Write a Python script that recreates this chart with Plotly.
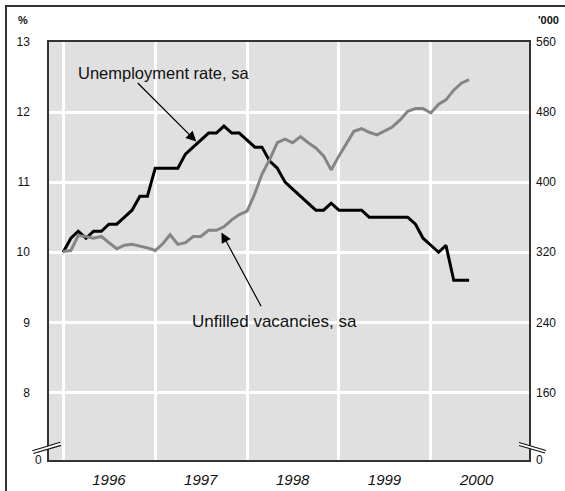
import pandas as pd
import plotly.graph_objects as go

# ---- data (monthly, Jan 1996 - Jun 2000) ----
start_month = "1996-01-01"
unemployment_rate = [
    10.0, 10.2, 10.3, 10.2, 10.3, 10.3, 10.4, 10.4, 10.5, 10.6, 10.8, 10.8,
    11.2, 11.2, 11.2, 11.2, 11.4, 11.5, 11.6, 11.7, 11.7, 11.8, 11.7, 11.7,
    11.6, 11.5, 11.5, 11.3, 11.2, 11.0, 10.9, 10.8, 10.7, 10.6, 10.6, 10.7,
    10.6, 10.6, 10.6, 10.6, 10.5, 10.5, 10.5, 10.5, 10.5, 10.5, 10.4, 10.2,
    10.1, 10.0, 10.1, 9.6, 9.6, 9.6,
]
unfilled_vacancies = [
    321, 322, 339, 338, 336, 338, 331, 324, 328, 329, 327, 325,
    322, 330, 340, 329, 331, 338, 338, 345, 345, 349, 357, 363,
    367, 387, 409, 426, 445, 449, 445, 452, 445, 439, 430, 414,
    430, 445, 458, 461, 457, 454, 458, 463, 471, 481, 484, 484,
    479, 489, 494, 505, 513, 517,
]
years = ["1996", "1997", "1998", "1999", "2000"]
left_ticks = [8, 9, 10, 11, 12, 13]
right_ticks = [160, 240, 320, 400, 480, 560]

months = pd.date_range(start_month, periods=len(unemployment_rate), freq="MS")

# axis scales (left % and right '000 share gridlines: right = 80*left - 480)
left_range = [7.036, 13.0]
right_range = [80 * v - 480 for v in left_range]

FONT = "Arial, Liberation Sans, sans-serif"

fig = go.Figure()
fig.add_trace(go.Scatter(
    x=months, y=unfilled_vacancies, yaxis="y2", mode="lines",
    line=dict(color="#858585", width=3), name="Unfilled vacancies, sa",
))
fig.add_trace(go.Scatter(
    x=months, y=unemployment_rate, yaxis="y", mode="lines",
    line=dict(color="#000000", width=3), name="Unemployment rate, sa",
))

fig.update_layout(
    width=565, height=491,
    margin=dict(l=49, r=36, t=42, b=31, autoexpand=False),
    paper_bgcolor="white", plot_bgcolor="#e0e0e0",
    showlegend=False,
    font=dict(family=FONT, color="#111", size=12),
    xaxis=dict(
        type="date", range=["1995-11-06", "2001-01-25"],
        tickvals=[f"{y}-07-01" for y in years], ticktext=years,
        tickfont=dict(size=15, style="italic"),
        ticks="", showgrid=False, zeroline=False,
        ticklabelstandoff=5,
        minor=dict(tickvals=[f"{y}-01-01" for y in years], showgrid=True,
                   gridcolor="white", gridwidth=3, ticks=""),
        showline=True, mirror=True, linecolor="#333", linewidth=1.5,
    ),
    yaxis=dict(
        range=left_range, tickvals=left_ticks, ticktext=[str(v) for v in left_ticks],
        ticks="", showgrid=True, gridcolor="white", gridwidth=3, zeroline=False,
        ticklabelstandoff=15,
        showline=True, mirror=True, linecolor="#333", linewidth=1.5,
    ),
    yaxis2=dict(
        range=right_range, overlaying="y", side="right",
        tickvals=right_ticks + [right_range[0]],
        ticktext=[str(v) for v in right_ticks] + ["0"],
        ticks="", showgrid=False, zeroline=False,
        ticklabelstandoff=6,
    ),
)

def px2paper(px, py):
    return (px - 49) / 480, (460 - py) / 418

anns = []
# header labels
x, y = px2paper(23, 20)
anns.append(dict(xref="paper", yref="paper", x=x, y=y, text="<b>%</b>", showarrow=False,
                 font=dict(size=11), xanchor="center", yanchor="middle"))
x, y = px2paper(536, 20)
anns.append(dict(xref="paper", yref="paper", x=x, y=y, text="<b>'000</b>", showarrow=False,
                 font=dict(size=11), xanchor="left", yanchor="middle"))
# left "0"
x, y = px2paper(38, 460)
anns.append(dict(xref="paper", yref="paper", x=x, y=y, text="0", showarrow=False,
                 font=dict(size=12), xanchor="center", yanchor="middle"))
# series labels
x, y = px2paper(75.5, 73)
anns.append(dict(xref="paper", yref="paper", x=x, y=y, text="Unemployment rate, sa",
                 showarrow=False, font=dict(size=16.5), xanchor="left", yanchor="middle"))
x, y = px2paper(190, 321)
anns.append(dict(xref="paper", yref="paper", x=x, y=y, text="Unfilled vacancies, sa",
                 showarrow=False, font=dict(size=17), xanchor="left", yanchor="middle"))
# arrows
anns.append(dict(xref="x", yref="y", x="1997-06-13", y=11.58, text="", showarrow=True,
                 ax=-60, ay=-60, arrowhead=2, arrowsize=1.7, arrowwidth=1.2, arrowcolor="black"))
anns.append(dict(xref="x", yref="y", x="1997-09-21", y=10.283, text="", showarrow=True,
                 ax=40.5, ay=75.3, arrowhead=2, arrowsize=1.7, arrowwidth=1.2, arrowcolor="black"))
fig.update_layout(annotations=anns)

shapes = []
# outer frame (visible on top and left; right/bottom edges fall outside the canvas)
x0, y0 = px2paper(6, 6)
x1, y1 = px2paper(620, 560)
shapes.append(dict(type="rect", xref="paper", yref="paper", x0=x0, y0=y1, x1=x1, y1=y0,
                   line=dict(color="#333", width=2), fillcolor="rgba(0,0,0,0)", layer="below"))

# axis break marks
def brk(l1, l2):
    mid = [((l1[i][0] + l2[i][0]) / 2, (l1[i][1] + l2[i][1]) / 2) for i in range(2)]
    a, b = px2paper(*mid[0]); c, d = px2paper(*mid[1])
    shapes.append(dict(type="line", xref="paper", yref="paper", x0=a, y0=b, x1=c, y1=d,
                       line=dict(color="white", width=3)))
    for ln in (l1, l2):
        a, b = px2paper(*ln[0]); c, d = px2paper(*ln[1])
        shapes.append(dict(type="line", xref="paper", yref="paper", x0=a, y0=b, x1=c, y1=d,
                           line=dict(color="#111", width=1.2)))

brk([(32.3, 450.7), (60.3, 442.3)], [(33.3, 453.5), (61, 445.3)])
brk([(519, 442.5), (546, 450.5)], [(519, 445.5), (545, 453)])
fig.update_layout(shapes=shapes)

fig.write_html("out.html", config={"displayModeBar": False},
               post_script="document.body.style.margin='0';document.body.style.padding='0';")
